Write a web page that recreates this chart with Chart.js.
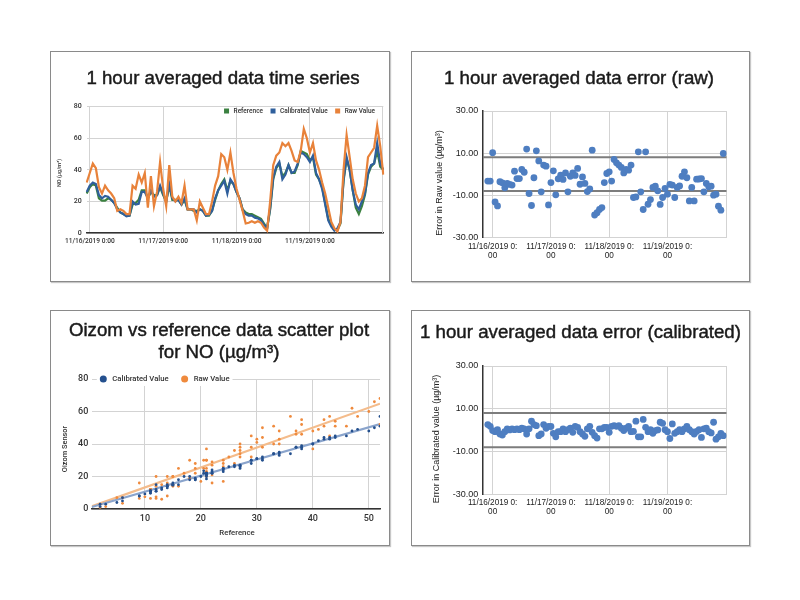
<!DOCTYPE html>
<html>
<head>
<meta charset="utf-8">
<script src="https://cdn.jsdelivr.net/npm/chart.js@4.4.1/dist/chart.umd.min.js"></script>
<style>
  html,body{margin:0;padding:0;background:#fff;}
  body{position:relative;width:800px;height:600px;overflow:hidden;}
  .box{position:absolute;box-sizing:border-box;border:1px solid #8a8a8a;box-shadow:1px 1px 1px rgba(0,0,0,0.22);background:#fff;}
  canvas{position:absolute;}
  .title{position:absolute;text-align:center;font-family:"Liberation Sans",Arial,sans-serif;font-size:18.7px;line-height:22px;color:#1a1a1a;white-space:nowrap;-webkit-text-stroke:0.45px #1a1a1a;}
</style>
</head>
<body>
<div class="box" style="left:50px;top:51px;width:340px;height:231px"></div>
<div class="box" style="left:411px;top:51px;width:339px;height:231px"></div>
<div class="box" style="left:50px;top:310px;width:340px;height:236px"></div>
<div class="box" style="left:411px;top:310px;width:339px;height:236px"></div>

<canvas id="c1" width="340" height="231" style="left:50px;top:51px"></canvas>
<canvas id="c2" width="339" height="231" style="left:411px;top:51px"></canvas>
<canvas id="c3" width="340" height="236" style="left:50px;top:310px"></canvas>
<canvas id="c4" width="339" height="236" style="left:411px;top:310px"></canvas>

<div class="title" style="left:53px;top:66.5px;width:340px">1 hour averaged data time series</div>
<div class="title" style="left:409.5px;top:66.8px;width:339px">1 hour averaged data error (raw)</div>
<div class="title" style="left:49px;top:319.2px;width:340px">Oizom vs reference data scatter plot<br>for NO (µg/m³)</div>
<div class="title" style="left:411px;top:320.8px;width:339px">1 hour averaged data error (calibrated)</div>

<script>
// ---------------- DATA ----------------
// Time series: hourly, from 11/15/2019 23:00 (hour -1) to 11/20/2019 0:00 (hour 96)
const seriesStartHour = -1;
const seriesNames = ['Reference', 'Calibrated Value', 'Raw Value'];
const seriesTickLabels = ['11/16/2019 0:00', '11/17/2019 0:00', '11/18/2019 0:00', '11/19/2019 0:00'];

const refValue = [25,29,31,30,22,20.5,20.5,22,21,19,
  16,13,12,11,11,18,19,21,27,27,
  22,26,24,24,29,24,20,30,21,21,
  21,18,21,15,15,14,14,15,14,11,
  11,14,21,27,31,34,27,33,31,26,
  22,15,13,12,12,11,10,9,6,3,
  15,34,41,44,36,38,43,38,38,43,
  52,51,50,46,48,37,34,29,19,9,
  5,2,2,6,33,47,40,27,16,12,
  17,24,37,42,44,52,42,40];

const calValue = [26,30,32,31,24,22,23.5,23,21,19,
  15,13,12,10.5,11,20,18,18.5,26,26,
  22,27,23,24,30,25,20,31,22,20,
  21,18,22,15,15,15,13,15,14,11,
  11.5,14,22,27,30,33,25,34,31,26,
  22,14.6,12,11,11,9.7,9.3,8,5,3,
  16,35,42,45,34,37,43,38,39,44,
  51,50,48,45,49,38,34,28,18,8,
  4,1.5,3,7,34,48,40,27,18,15,
  20,25,38,43,44,57,44,40];

const rawValue = [32,38,44,41,29,25,30,27,25,22,
  14,15,14,12,12,30,28,37,32,38,
  16,36,17,26,45,28,17,43,23,20,
  23,19,30,15,15,15,8,20,16,12,
  12,20,30,36,50,48,40,51,38,28,
  21,14,6,6.5,7.5,6.5,7.5,6.5,3.5,1.5,
  20,43,49,51,57,55,57,52,46,45,
  52,66,60,51,57,46,40,32,25,16,
  7,3,1,7,40,62,48,34,25,20,
  22,30,48,51,54,68,55,37];

// Error series: hourly, from 11/15/2019 22:00 (hour -2)
const errStartHour = -2;
const rawError = [-3.3,-3.3,10.2,-13.2,-15.1,-3.6,-4.1,-6.5,-4.4,-4.9,
  -5.2,1.4,-2.1,-2.1,2.2,0.9,11.9,-9.2,-14.9,-1.7,
  11.1,6.3,-8.4,4.3,3.8,-14.6,-4,1.6,-9.8,-2.2,
  -0.5,-2.5,0.6,-8.4,-1,0.6,-0.6,2.7,-4.8,-1.3,
  -4.4,-8.3,-7,11.4,-19.4,-18.3,-16.8,-15.9,-4,0.3,
  1.1,-3.3,7,5.4,4.3,3.2,0.6,2.2,1.9,4.3,
  -11.1,-10.8,10.6,-8.4,-16.8,10.6,-14.3,-12.1,-6.3,-5.7,
  -7.9,-14.4,-11.1,-6.8,-9.5,-4.9,-5.2,-11.1,-6.3,-5.6,
  -1,1.1,-1.7,-12.7,-6.3,-12.7,-2.4,-2.3,-2.1,-8.4,
  -4.4,-6,-5.7,-10,-9.5,-15.2,-17.1,9.8];

const calError = [2.6,1.8,-0.2,-0.7,0.2,-1.8,-2.3,-0.7,0.6,0.1,
  0.6,0.2,0.6,0.2,0.9,0.6,-1.8,0.6,4.2,2.6,
  2.1,-2.6,-1.8,2.6,0.9,1.8,1.7,-1.5,-3.1,-0.7,
  -0.7,0.6,-0.7,0.2,0.9,-1,1.8,1.3,-0.7,-1.8,
  -2.9,0.6,1.8,-1,-2.6,-3.7,0.6,0.6,1.3,1.3,
  -1,1.8,2.1,1.8,2.1,0.9,-0.2,0.9,1.8,-0.7,
  -0.6,4.2,-3.1,-3.1,5,1.3,-0.7,0.2,-1.5,-0.2,
  0.1,3.7,3.2,0.2,-0.7,-3.9,2.9,-1.5,-0.7,0.2,
  -0.7,0.6,1.8,0.2,-0.7,-1.8,-0.6,0.2,-3.4,0.6,
  0.9,-0.7,-1.3,3.7,-4.2,-3.1,-1.5,-2.6];

const errLimits = [8, -8];                       // horizontal reference lines
const errTickHours = [0, 24, 48, 72];
const errTickLabels = ['11/16/2019 0:00', '11/17/2019 0:00', '11/18/2019 0:00', '11/19/2019 0:00'];

// Scatter trend lines: x ends, y ends
const trendX = [0.5, 52];
const calTrend = [1.2, 52.3];
const rawTrend = [1.6, 64.8];

// ---------------- HELPERS ----------------
function hourLabel(h) {
  const day = 16 + Math.floor(h / 24);
  const hr = ((h % 24) + 24) % 24;
  return '11/' + day + '/2019 ' + hr + ':00';
}
const timeLabels = refValue.map((_, i) => hourLabel(seriesStartHour + i));
const errHours = rawError.map((_, i) => errStartHour + i);

const GREEN = '#3b8140', BLUE = '#2f5f9c', ORANGE = '#e8823a';
const PT = '#4e7ec1';
const GRID = '#d3d3d3';
const ROBOTO = 'Roboto, "Liberation Sans", sans-serif';
const ARIAL = '"Liberation Sans", Arial, sans-serif';

function makeExtras(cfg) {
  return {
    id: 'extras',
    beforeDatasetsDraw(chart) {
      const a = chart.chartArea, ctx = chart.ctx;
      if (cfg.rightEdge) {
        ctx.save(); ctx.strokeStyle = cfg.rightEdge; ctx.lineWidth = 1;
        const x = Math.round(a.right) - 0.5;
        ctx.beginPath(); ctx.moveTo(x, a.top); ctx.lineTo(x, a.bottom); ctx.stroke(); ctx.restore();
      }
    },
    afterDraw(chart) {
      const ctx = chart.ctx;
      (cfg.texts || []).forEach(t => {
        ctx.save();
        ctx.font = t.font; ctx.fillStyle = t.color || '#222';
        ctx.textAlign = 'center'; ctx.textBaseline = 'middle';
        ctx.translate(t.x, t.y);
        if (t.rotate) ctx.rotate(-Math.PI / 2);
        ctx.fillText(t.text, 0, 0);
        ctx.restore();
      });
      const L = cfg.legend;
      if (!L) return;
      ctx.save();
      ctx.font = L.font; ctx.textBaseline = 'middle'; ctx.textAlign = 'left';
      const items = chart.data.datasets.filter(d => d.inLegend).map(d => ({
        text: d.label, color: d.legendColor || d.borderColor || d.backgroundColor,
        w: ctx.measureText(d.label).width }));
      const total = items.reduce((s, it) => s + L.size + L.gap + it.w, 0) + L.spacing * (items.length - 1);
      let x = L.align === 'end' ? L.x - total : L.x;
      if (L.bg) { ctx.fillStyle = L.bg; ctx.fillRect(x - 3, L.y - L.size, total + 6, L.size * 2); }
      items.forEach(it => {
        ctx.fillStyle = it.color;
        if (L.shape === 'circle') { ctx.beginPath(); ctx.arc(x + L.size / 2, L.y, L.size / 2, 0, Math.PI * 2); ctx.fill(); }
        else ctx.fillRect(x, L.y - L.size / 2, L.size, L.size);
        x += L.size + L.gap;
        ctx.fillStyle = L.color; ctx.fillText(it.text, x, L.y);
        x += it.w + L.spacing;
      });
      ctx.restore();
    }
  };
}

// ---------------- CHART 1: time series ----------------
new Chart(document.getElementById('c1'), {
  type: 'line',
  data: {
    labels: timeLabels,
    datasets: [
      { label: seriesNames[0], data: refValue, borderColor: GREEN, backgroundColor: GREEN, order: 2, inLegend: true },
      { label: seriesNames[1], data: calValue, borderColor: BLUE, backgroundColor: BLUE, order: 1, inLegend: true },
      { label: seriesNames[2], data: rawValue, borderColor: ORANGE, backgroundColor: ORANGE, order: 0, inLegend: true }
    ]
  },
  options: {
    responsive: false, animation: false,
    layout: { padding: { left: 0, right: 6.7, top: 55.7, bottom: 0 } },
    elements: { point: { radius: 0 }, line: { borderWidth: 2.2, tension: 0 } },
    plugins: { legend: { display: false }, tooltip: { enabled: false } },
    scales: {
      x: {
        type: 'category',
        grid: { color: GRID, drawTicks: false },
        border: { display: true, color: '#333', width: 1.5 },
        ticks: {
          autoSkip: false, maxRotation: 0, minRotation: 0, padding: 4,
          font: { family: ROBOTO, size: 6.6, weight: '500' }, color: '#333',
          callback(v) { const l = this.getLabelForValue(v); return seriesTickLabels.includes(l) ? l : null; }
        },
        afterFit(s) { s.height = 49; }
      },
      y: {
        min: 0, max: 80,
        grid: { color: GRID, drawTicks: false },
        border: { display: false },
        ticks: { stepSize: 20, padding: 5, font: { family: ROBOTO, size: 7, weight: '500' }, color: '#333' },
        afterFit(s) { s.width = 36.7; }
      }
    }
  },
  plugins: [makeExtras({
    rightEdge: GRID,
    texts: [{ text: 'NO (µg/m³)', x: 10, y: 122, rotate: true, font: '500 5.5px ' + ROBOTO, color: '#333' }],
    legend: { align: 'end', x: 325, y: 60, size: 5, gap: 4.5, spacing: 7.5, shape: 'square',
              font: '500 6.5px ' + ROBOTO, color: '#333' }
  })]
});

// ---------------- ERROR CHARTS ----------------
function errorChart(id, values, yTitle, layoutTop, xHeight, titlePos, labelPad) {
  const xMin = -4.1, xMax = 96.4;
  new Chart(document.getElementById(id), {
    type: 'scatter',
    data: {
      datasets: [
        { label: 'upper', type: 'line', showLine: true, data: [{ x: xMin, y: errLimits[0] }, { x: xMax, y: errLimits[0] }],
          borderColor: '#7d7d7d', borderWidth: 2, pointRadius: 0, order: 1 },
        { label: 'lower', type: 'line', showLine: true, data: [{ x: xMin, y: errLimits[1] }, { x: xMax, y: errLimits[1] }],
          borderColor: '#7d7d7d', borderWidth: 2, pointRadius: 0, order: 1 },
        { label: 'error', data: errHours.map((h, i) => ({ x: h, y: values[i] })),
          backgroundColor: PT, borderColor: PT, borderWidth: 0, pointRadius: 3.4, order: 0 }
      ]
    },
    options: {
      responsive: false, animation: false,
      layout: { padding: { left: 0, right: 23.3, top: layoutTop, bottom: 0 } },
      plugins: { legend: { display: false }, tooltip: { enabled: false } },
      scales: {
        x: {
          type: 'linear', min: xMin, max: xMax,
          afterBuildTicks(s) { s.ticks = errTickHours.map(v => ({ value: v })); },
          grid: { color: GRID, drawTicks: false },
          border: { display: true, color: GRID, width: 1 },
          ticks: {
            autoSkip: false, maxRotation: 0, minRotation: 0, padding: labelPad,
            font: { family: ARIAL, size: 8.2, lineHeight: 1.1 }, color: '#222',
            callback(v) { const l = errTickLabels[errTickHours.indexOf(v)]; return [l.slice(0, -2), l.slice(-2)]; }
          },
          afterFit(s) { s.height = xHeight; }
        },
        y: {
          min: -30, max: 30,
          grid: { color: GRID, drawTicks: false },
          border: { display: true, color: '#333', width: 1.5 },
          ticks: { stepSize: 20, padding: 4.5, font: { family: ARIAL, size: 9 }, color: '#222',
                   callback: v => v.toFixed(2) },
          afterFit(s) { s.width = 71.7; }
        }
      }
    },
    plugins: [makeExtras({
      rightEdge: GRID,
      texts: [{ text: yTitle, x: titlePos[0], y: titlePos[1], rotate: true, font: '9px ' + ARIAL, color: '#222' }]
    })]
  });
}
errorChart('c2', rawError, 'Error in Raw value (µg/m³)', 60, 44.7, [28.3, 132], 4.9);
errorChart('c4', calError, 'Error in Calibrated value (µg/m³)', 56, 51.7, [25.7, 129], 4.2);

// ---------------- CHART 3: scatter ----------------
const SC_BLUE = '#24508e', SC_ORANGE = '#ef8a3d';
new Chart(document.getElementById('c3'), {
  type: 'scatter',
  data: {
    datasets: [
      { label: 'Calibrated Value', data: refValue.map((r, i) => ({ x: r, y: calValue[i] })),
        backgroundColor: SC_BLUE, borderColor: SC_BLUE, borderWidth: 0, pointRadius: 1.4, order: 0, inLegend: true },
      { label: 'Raw Value', data: refValue.map((r, i) => ({ x: r, y: rawValue[i] })),
        backgroundColor: SC_ORANGE, borderColor: SC_ORANGE, borderWidth: 0, pointRadius: 1.4, order: 1, inLegend: true },
      { label: 'cal trend', type: 'line', showLine: true,
        data: trendX.map((x, i) => ({ x: x, y: calTrend[i] })),
        borderColor: '#8aa4cc', borderWidth: 2.2, pointRadius: 0, order: 2 },
      { label: 'raw trend', type: 'line', showLine: true,
        data: trendX.map((x, i) => ({ x: x, y: rawTrend[i] })),
        borderColor: '#f4bc8c', borderWidth: 2.2, pointRadius: 0, order: 2 }
    ]
  },
  options: {
    responsive: false, animation: false,
    layout: { padding: { left: 0, right: 10, top: 69, bottom: 0 } },
    plugins: { legend: { display: false }, tooltip: { enabled: false } },
    scales: {
      x: {
        type: 'linear', min: 0.5, max: 52,
        afterBuildTicks(s) { s.ticks = [10, 20, 30, 40, 50].map(v => ({ value: v })); },
        grid: { color: GRID, drawTicks: false },
        border: { display: true, color: '#333', width: 1.5 },
        ticks: { padding: 4.8, maxRotation: 0, font: { family: ROBOTO, size: 9, weight: '500' }, color: '#333' },
        afterFit(s) { s.height = 37; }
      },
      y: {
        min: 0, max: 80,
        grid: { color: GRID, drawTicks: false },
        border: { display: false },
        ticks: { stepSize: 20, padding: 3.4, font: { family: ROBOTO, size: 9, weight: '500' }, color: '#333' },
        afterFit(s) { s.width = 41.7; }
      }
    }
  },
  plugins: [makeExtras({
    texts: [
      { text: 'Oizom Sensor', x: 15, y: 139, rotate: true, font: '500 7.4px ' + ROBOTO, color: '#333' },
      { text: 'Reference', x: 187, y: 223, font: '500 7.8px ' + ROBOTO, color: '#333' }
    ],
    legend: { align: 'start', x: 49.8, y: 69, size: 7, gap: 5.5, spacing: 12.5, shape: 'circle', bg: '#fff',
              font: '500 7.7px ' + ROBOTO, color: '#333' }
  })]
});
</script>
</body>
</html>
